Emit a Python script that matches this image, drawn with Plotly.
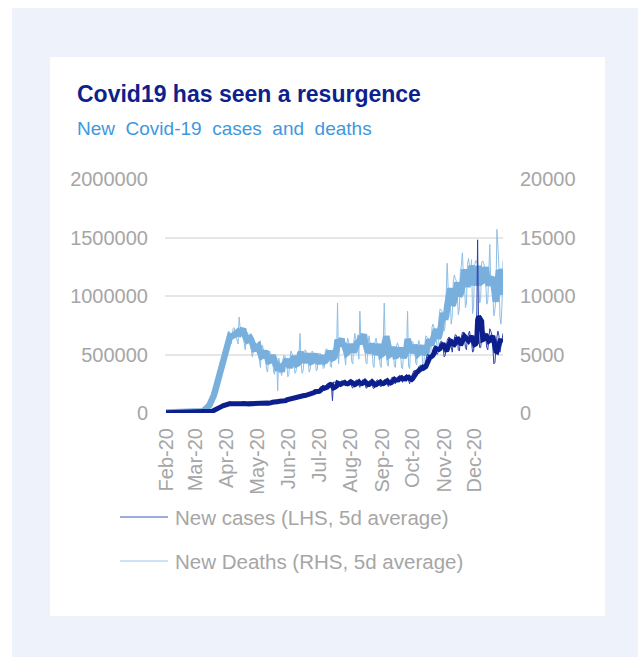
import pandas as pd
import plotly.graph_objects as go

# ---- daily new deaths (global), Feb 1 - Dec 29 2020 ----
deaths_feb = [45, 46, 57, 64, 66, 73, 73, 86, 89, 97, 108, 97, 254, 121, 143,
              142, 106, 98, 139, 115, 118, 109, 97, 150, 71, 64, 37, 58, 67]
deaths_mar = [70, 75, 80, 90, 110, 130, 170, 230, 300, 380, 470, 580, 700, 850, 1000,
              1200, 1450, 1750, 2050, 2400, 2750, 3100, 3450, 3800, 4150, 4500, 4850,
              5200, 5500, 5800, 6100]
deaths_apr = [6400, 6700, 7000, 6600, 5900, 6300, 7200, 7300, 7000, 6700, 6200, 5900,
              8200, 7300, 7100, 6900, 6500, 6000, 5400, 6200, 6900, 6700, 6300, 5900,
              5400, 4800, 5200, 6100, 6000, 5700]
deaths_may = [5600, 5200, 4200, 3900, 5300, 5800, 5400, 5200, 4800, 3700, 3500, 4900,
              5300, 5100, 4900, 4500, 3500, 3300, 4600, 4800, 1900, 4700, 4300, 3500,
              3200, 4500, 4900, 4900, 4600, 4100, 3100]
deaths_jun = [3300, 4500, 5300, 5100, 4900, 4500, 3400, 3500, 4700, 5100, 5000, 6800,
              4400, 3400, 3600, 4900, 5400, 5300, 5100, 4600, 3500, 3700, 5000, 5300,
              5100, 5100, 4700, 3600, 3700, 4900]
deaths_jul = [5100, 5100, 4900, 4400, 3800, 3900, 5300, 5500, 5400, 5300, 5000, 4000,
              3900, 5200, 5500, 5400, 5900, 5200, 9400, 4200, 5600, 6400, 6200, 6000,
              5500, 4400, 4100, 5700, 6400, 6000, 5800]
deaths_aug = [5500, 4400, 4200, 6100, 6800, 6300, 6100, 5600, 4600, 8700, 6000, 6700,
              6300, 5900, 5500, 4300, 4200, 5900, 6600, 6000, 5700, 5400, 4100, 3900,
              6100, 6400, 5900, 5700, 5300, 4100, 3900]
deaths_sep = [6200, 6100, 9400, 5800, 5300, 4200, 4000, 5600, 6100, 5600, 5600, 5300,
              4000, 3900, 5700, 6000, 5600, 5400, 5200, 3900, 3800, 5500, 6100, 5800,
              5500, 8700, 4000, 3800, 5600, 6000]
deaths_oct = [6100, 5800, 5500, 4300, 4100, 5600, 6200, 5900, 5700, 5400, 4100, 4000,
              5800, 6600, 6500, 6400, 6200, 5000, 5100, 7300, 7600, 7200, 7000, 6700,
              5400, 5600, 8200, 8900, 8800, 8700, 8100]
deaths_nov = [7000, 7400, 10300, 12800, 10600, 10100, 9500, 7600, 8300, 11200, 11800,
              11500, 11300, 10000, 8400, 8900, 12100, 12600, 13700, 11700, 11200, 9000,
              9400, 12700, 13200, 12600, 11400, 13100, 8500, 9000]
deaths_dec = [12600, 13000, 13000, 12700, 11500, 9400, 9700, 12900, 13000, 12800, 12400,
              11200, 9300, 9600, 12000, 14400, 11000, 10500, 10100, 8300, 8800, 9800,
              15700, 14200, 12500, 8200, 7600, 9200, 13000]

# ---- daily new cases (global), Feb 1 - Dec 29 2020 ----
cases_feb = [2100, 2600, 3200, 3900, 3700, 3200, 3500, 2700, 2700, 2500, 2000, 2000,
             15100, 5100, 2600, 2100, 2000, 1800, 550, 600, 1000, 1000, 600, 600, 800,
             900, 1100, 1400, 1700]
cases_mar = [1800, 2000, 2300, 2600, 2800, 3900, 3900, 4000, 3800, 4500, 5500, 7300,
             9700, 11600, 13000, 16400, 19300, 23800, 28000, 32300, 36900, 41700,
             46300, 51500, 56700, 61900, 66200, 70800, 74000, 76800, 79200]
cases_apr = [80500, 81300, 85000, 79500, 72400, 76800, 75600, 83300, 87600, 87900,
             83300, 75700, 72100, 72500, 79900, 95600, 87900, 81300, 79000, 73300,
             76200, 80300, 84400, 98000, 89900, 81600, 79500, 78700, 82800, 87300]
cases_may = [89000, 94000, 80500, 76100, 82600, 93900, 89500, 96000, 86800, 77500,
             76900, 84300, 89000, 95700, 97000, 95400, 82700, 85500, 93300, 98600,
             106000, 107000, 101500, 98100, 91500, 95700, 103000, 117000, 121000,
             123000, 110000]
cases_jun = [112000, 118000, 124000, 131000, 135000, 138000, 126000, 121000, 136000,
             144000, 151000, 156000, 155000, 142000, 138000, 152000, 158000, 163000,
             167000, 162000, 150000, 148000, 170000, 178000, 183000, 192000, 188000,
             170000, 166000, 186000]
cases_jul = [215000, 222000, 226000, 216000, 200000, 196000, 225000, 236000, 248000,
             256000, 250000, 228000, 226000, 105000, 265000, 266000, 262000, 248000,
             234000, 226000, 247000, 266000, 276000, 272000, 258000, 232000, 230000,
             252000, 270000, 278000, 274000]
cases_aug = [260000, 225000, 212000, 250000, 270000, 280000, 282000, 266000, 234000,
             219000, 256000, 278000, 286000, 272000, 256000, 214000, 213000, 262000,
             274000, 274000, 266000, 257000, 213000, 210000, 257000, 278000, 284000,
             278000, 259000, 228000, 225000]
cases_sep = [263000, 277000, 283000, 290000, 279000, 242000, 225000, 252000, 281000,
             295000, 308000, 294000, 262000, 248000, 285000, 306000, 314000, 322000,
             300000, 268000, 262000, 300000, 308000, 322000, 330000, 305000, 268000,
             250000, 290000, 318000]
cases_oct = [345000, 360000, 365000, 330000, 340000, 372000, 398000, 402000, 410000,
             392000, 358000, 365000, 410000, 460000, 490000, 505000, 480000, 450000,
             470000, 520000, 545000, 565000, 575000, 550000, 500000, 515000, 580000,
             600000, 615000, 610000, 560000]
cases_nov = [480000, 490000, 560000, 620000, 640000, 650000, 610000, 540000, 520000,
             600000, 650000, 670000, 665000, 630000, 540000, 530000, 610000, 660000,
             690000, 680000, 640000, 560000, 540000, 650000, 690000, 700000, 640000,
             610000, 520000, 530000]
cases_dec = [620000, 660000, 690000, 1480000, 680000, 560000, 560000, 640000, 690000,
             700000, 690000, 640000, 560000, 540000, 640000, 720000, 700000, 670000,
             560000, 420000, 430000, 560000, 650000, 700000, 660000, 520000, 560000,
             620000, 680000]

month_labels = ["Feb-20", "Mar-20", "Apr-20", "May-20", "Jun-20", "Jul-20",
                "Aug-20", "Sep-20", "Oct-20", "Nov-20", "Dec-20"]
month_starts = ["2020-02-01", "2020-03-01", "2020-04-01", "2020-05-01", "2020-06-01",
                "2020-07-01", "2020-08-01", "2020-09-01", "2020-10-01", "2020-11-01",
                "2020-12-01"]
left_ticks = [0, 500000, 1000000, 1500000, 2000000]
right_ticks = [0, 5000, 10000, 15000, 20000]

deaths_months = [deaths_feb, deaths_mar, deaths_apr, deaths_may, deaths_jun, deaths_jul,
                 deaths_aug, deaths_sep, deaths_oct, deaths_nov, deaths_dec]
cases_months = [cases_feb, cases_mar, cases_apr, cases_may, cases_jun, cases_jul,
                cases_aug, cases_sep, cases_oct, cases_nov, cases_dec]
month_lengths = [29, 31, 30, 31, 30, 31, 31, 30, 31, 30, 29]
for d, c, n in zip(deaths_months, cases_months, month_lengths):
    assert len(d) == n and len(c) == n, (len(d), len(c), n)

deaths = pd.Series(sum(deaths_months, []), dtype=float)
cases = pd.Series(sum(cases_months, []), dtype=float)
dates = pd.date_range("2020-02-01", periods=len(cases), freq="D")
deaths_avg = deaths.rolling(5, min_periods=1).mean()
cases_avg = cases.rolling(5, min_periods=1).mean()

NAVY = "#0c1f8c"
NAVY_THIN = "#2b40ad"
LIGHT = "#79afdd"
LIGHT_THIN = "#8ebfe6"
GREY = "#a6a6a6"
FONT = "Liberation Sans, Arial, sans-serif"

fig = go.Figure()
# deaths on the right-hand axis (base layer)
fig.add_trace(go.Scatter(x=dates, y=deaths, mode="lines", yaxis="y",
                         line=dict(color=LIGHT_THIN, width=1), showlegend=False))
fig.add_trace(go.Scatter(x=dates, y=deaths_avg, mode="lines", yaxis="y",
                         line=dict(color=LIGHT, width=6.5), showlegend=False))
# cases on the left-hand axis (drawn on top)
fig.add_trace(go.Scatter(x=dates, y=cases, mode="lines", yaxis="y2",
                         line=dict(color=NAVY_THIN, width=1), showlegend=False))
fig.add_trace(go.Scatter(x=dates, y=cases_avg, mode="lines", yaxis="y2",
                         line=dict(color=NAVY, width=5), showlegend=False))

W, H = 638, 657
L, R, T, B = 165, 503, 179, 413


def px(x):
    return (x - L) / (R - L)


def py(y):
    return (B - y) / (B - T)


shapes = [
    dict(type="rect", xref="paper", yref="paper", layer="below",
         x0=px(12), x1=px(W + 5), y0=py(8), y1=py(H + 5),
         fillcolor="#eef2fb", line=dict(width=0)),
    dict(type="rect", xref="paper", yref="paper", layer="below",
         x0=px(50), x1=px(605), y0=py(57), y1=py(616),
         fillcolor="white", line=dict(width=0)),
    dict(type="line", xref="paper", yref="paper", x0=px(120), x1=px(168),
         y0=py(517), y1=py(517), line=dict(color="#3f58c6", width=1)),
    dict(type="line", xref="paper", yref="paper", x0=px(120), x1=px(168),
         y0=py(561), y1=py(561), line=dict(color="#9cc6ea", width=1)),
]

annotations = [
    dict(text="<b>Covid19 has seen a resurgence</b>", xref="paper", yref="paper",
         x=px(75), y=py(94), xanchor="left", yanchor="middle", showarrow=False,
         font=dict(family=FONT, size=23, color="#0e1f8e")),
    dict(text="New\u00a0 Covid-19\u00a0 cases\u00a0 and\u00a0 deaths", xref="paper",
         yref="paper", x=px(75), y=py(128), xanchor="left", yanchor="middle",
         showarrow=False, font=dict(family=FONT, size=19, color="#3e98de")),
    dict(text="New cases (LHS, 5d average)", xref="paper", yref="paper",
         x=px(173), y=py(517), xanchor="left", yanchor="middle", showarrow=False,
         font=dict(family=FONT, size=20.5, color=GREY)),
    dict(text="New Deaths (RHS, 5d average)", xref="paper", yref="paper",
         x=px(173), y=py(561), xanchor="left", yanchor="middle", showarrow=False,
         font=dict(family=FONT, size=20.5, color=GREY)),
]

tickfont = dict(family=FONT, size=20, color=GREY)

fig.update_layout(
    width=W, height=H, autosize=False,
    margin=dict(l=L, r=W - R, t=T, b=H - B, pad=0),
    paper_bgcolor="white", plot_bgcolor="rgba(0,0,0,0)",
    showlegend=False,
    shapes=shapes, annotations=annotations,
    xaxis=dict(type="date", range=["2020-01-31", "2020-12-29"],
               tickvals=month_starts, ticktext=month_labels, tickangle=-90,
               showgrid=False, zeroline=False, showline=False, ticks="",
               tickfont=tickfont, ticklabelstandoff=10),
    yaxis=dict(side="right", range=[0, 20000], tickvals=right_ticks,
               ticktext=[str(v) for v in right_ticks], showgrid=True,
               gridcolor="#e6e6e6", gridwidth=1.5, zeroline=False, showline=False,
               ticks="", tickfont=tickfont, ticklabelstandoff=16),
    yaxis2=dict(side="left", overlaying="y", range=[0, 2000000], tickvals=left_ticks,
                ticktext=[str(v) for v in left_ticks], showgrid=False,
                zeroline=False, showline=False, ticks="", tickfont=tickfont,
                ticklabelstandoff=16),
)

fig.write_html("out.html")
